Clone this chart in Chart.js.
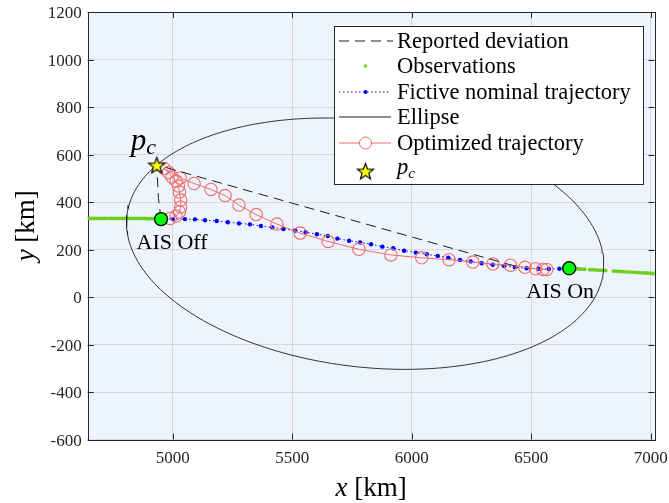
<!DOCTYPE html>
<html>
<head>
<meta charset="utf-8">
<script src="https://cdn.jsdelivr.net/npm/chart.js@4/dist/chart.umd.min.js"></script>
<style>
  html, body { margin: 0; padding: 0; background: #fff; }
  canvas { display: block; }
</style>
</head>
<body>
<canvas id="track" width="669" height="503"></canvas>
<script>
// Axis limits and ticks (km)
const X_LIMITS = [4644, 7016];
const Y_LIMITS = [-600, 1200];
const X_TICKS = [5000, 5500, 6000, 6500, 7000];
const Y_TICKS = [-600, -400, -200, 0, 200, 400, 600, 800, 1000, 1200];

// Key positions
const AIS_OFF = [4951, 328];
const AIS_ON = [6659, 121];
const PC = [4933, 556];

// AIS observations before switch-off and after switch-on
const obsX = [4644, 4653, 4662, 4671, 4680, 4689, 4698, 4707, 4716, 4724, 4737, 4745,
              4756, 4765, 4774, 4783, 4792, 4801, 4810, 4819, 4828, 4837, 4846, 4855,
              4864, 4873, 4882, 4891, 4900, 4909, 4918, 4927, 4936, 4945,
              6670, 6681, 6692, 6702, 6713, 6724, 6745, 6756, 6767, 6778, 6789, 6800,
              6812, 6844, 6855, 6866, 6877, 6887, 6898, 6909, 6921, 6932, 6943, 6954,
              6965, 6976, 6987, 6998, 7009, 7016];
const obsY = [331, 331, 331, 331, 331, 331, 331, 331, 331, 331, 331, 331,
              331, 331, 331, 331, 331, 331, 331, 331, 331, 331, 331, 331,
              331, 331, 331, 330, 330, 330, 330, 330, 330, 330,
              120, 119, 119, 118, 117, 117, 115, 115, 114, 113, 113, 112,
              111, 109, 109, 108, 107, 107, 106, 105, 105, 104, 103, 103,
              102, 101, 101, 100, 99, 99];

// Fictive nominal trajectory between AIS off and AIS on
const nominalX = [4951, 5000, 5051, 5093, 5135, 5184, 5230, 5277, 5323, 5369, 5417, 5463,
                  5512, 5556, 5603, 5649, 5689, 5738, 5784, 5830, 5877, 5923, 5968, 6017,
                  6063, 6109, 6153, 6202, 6247, 6293, 6339, 6386, 6432, 6481, 6530, 6574,
                  6618, 6659];
const nominalY = [328, 328, 328, 327, 323, 320, 315, 310, 306, 299, 293, 286,
                  280, 273, 264, 257, 246, 237, 230, 222, 212, 205, 195, 187,
                  180, 173, 165, 156, 150, 142, 136, 131, 125, 121, 119, 118,
                  119, 121];

// Optimized trajectory
const optX = [4989, 5014, 5028, 5033, 5033, 5028, 5024, 5014, 4997, 4982, 4964,
              5031, 5089, 5160, 5219, 5277, 5349, 5436, 5533, 5650, 5779, 5913,
              6042, 6156, 6256, 6340, 6413, 6474, 6518, 6549, 6565];
const optY = [331, 341, 358, 379, 408, 442, 467, 488, 505, 524, 541,
              501, 478, 453, 427, 387, 347, 307, 269, 234, 201, 177,
              165, 157, 147, 139, 134, 125, 119, 116, 116];

// Reported deviation: AIS off -> p_c -> back to the track
const devX = [4951, 4940, 4933, 6450];
const devY = [328, 415, 556, 125];

// Reachability ellipse (centre, semi-axes, tilt in degrees)
const ELLIPSE_CENTER = [5805, 224.5];
const ELLIPSE_SEMI = [1004, 519];
const ELLIPSE_TILT = -6.9;

const FONT = 'Liberation Serif';
const INK = 'rgb(38,38,38)';
const GREEN_OBS = 'rgb(110,206,30)';
const BLUE = 'rgb(0,0,255)';
const RED = 'rgb(240,108,108)';

function zip(xs, ys) {
    return xs.map((x, i) => ({ x: x, y: ys[i] }));
}

function ellipsePoints() {
    const pts = [];
    const t = ELLIPSE_TILT * Math.PI / 180;
    for (let i = 0; i <= 240; i++) {
        const a = i / 240 * 2 * Math.PI;
        const u = ELLIPSE_SEMI[0] * Math.cos(a);
        const v = ELLIPSE_SEMI[1] * Math.sin(a);
        pts.push({
            x: ELLIPSE_CENTER[0] + u * Math.cos(t) - v * Math.sin(t),
            y: ELLIPSE_CENTER[1] + u * Math.sin(t) + v * Math.cos(t)
        });
    }
    return pts;
}

// Filled five-point star used as the p_c marker
function makeStar(r) {
    const c = document.createElement('canvas');
    const s = Math.ceil(r * 2 + 4);
    c.width = s;
    c.height = s;
    const g = c.getContext('2d');
    g.beginPath();
    for (let i = 0; i < 10; i++) {
        const rad = i % 2 ? r * 0.42 : r;
        const a = -Math.PI / 2 + i * Math.PI / 5;
        g.lineTo(s / 2 + rad * Math.cos(a), s / 2 + 1 + rad * Math.sin(a));
    }
    g.closePath();
    g.fillStyle = '#ffff00';
    g.fill();
    g.lineWidth = 1.2;
    g.strokeStyle = '#000';
    g.stroke();
    return c;
}
const starImg = makeStar(8.5);

// Draws a list of text runs (some italic, some shifted) in one line
function drawRuns(ctx, runs, x, y, align) {
    let total = 0;
    runs.forEach(r => {
        ctx.font = (r.italic ? 'italic ' : '') + r.size + 'px "' + FONT + '"';
        r.w = ctx.measureText(r.text).width;
        total += r.w;
    });
    let cx = align === 'center' ? x - total / 2 : x;
    runs.forEach(r => {
        ctx.font = (r.italic ? 'italic ' : '') + r.size + 'px "' + FONT + '"';
        ctx.fillText(r.text, cx, y + (r.dy || 0));
        cx += r.w;
    });
}

const plotBackground = {
    id: 'plotBackground',
    beforeDraw(chart) {
        const { ctx, chartArea: a } = chart;
        ctx.save();
        ctx.fillStyle = 'rgb(237,244,251)';
        ctx.fillRect(a.left, a.top, a.right - a.left, a.bottom - a.top);
        ctx.restore();
    }
};

// Axes box with inward ticks on all four sides
const axesBox = {
    id: 'axesBox',
    beforeDatasetsDraw(chart) {
        const { ctx, chartArea: a, scales } = chart;
        const len = 6;
        ctx.save();
        ctx.strokeStyle = INK;
        ctx.lineWidth = 1;
        ctx.beginPath();
        X_TICKS.forEach(v => {
            const px = Math.round(scales.x.getPixelForValue(v)) + 0.5;
            ctx.moveTo(px, a.bottom); ctx.lineTo(px, a.bottom - len);
            ctx.moveTo(px, a.top); ctx.lineTo(px, a.top + len);
        });
        Y_TICKS.forEach(v => {
            const py = Math.round(scales.y.getPixelForValue(v)) + 0.5;
            ctx.moveTo(a.left, py); ctx.lineTo(a.left + len, py);
            ctx.moveTo(a.right, py); ctx.lineTo(a.right - len, py);
        });
        ctx.stroke();
        ctx.strokeRect(Math.round(a.left) + 0.5, Math.round(a.top) + 0.5,
                       Math.round(a.right - a.left), Math.round(a.bottom - a.top));
        ctx.restore();
    }
};

// Legend, point labels and axis titles
const overlay = {
    id: 'overlay',
    afterDraw(chart) {
        const { ctx, chartArea: a, scales } = chart;
        ctx.save();
        ctx.fillStyle = INK;
        ctx.textBaseline = 'alphabetic';

        // point labels
        const sx = scales.x, sy = scales.y;
        const pcX = sx.getPixelForValue(PC[0]), pcY = sy.getPixelForValue(PC[1]);
        ctx.fillStyle = '#000';
        drawRuns(ctx, [
            { text: 'p', italic: true, size: 31 },
            { text: 'c', italic: true, size: 22, dy: 4 }
        ], pcX - 26, pcY - 15, 'left');
        const offX = sx.getPixelForValue(AIS_OFF[0]), offY = sy.getPixelForValue(AIS_OFF[1]);
        drawRuns(ctx, [{ text: 'AIS Off', size: 22 }], offX + 11, offY + 30, 'center');
        const onX = sx.getPixelForValue(AIS_ON[0]), onY = sy.getPixelForValue(AIS_ON[1]);
        drawRuns(ctx, [{ text: 'AIS On', size: 22 }], onX - 9, onY + 30, 'center');

        // axis titles
        drawRuns(ctx, [
            { text: 'x', italic: true, size: 27 },
            { text: ' [km]', size: 27 }
        ], (a.left + a.right) / 2, 496, 'center');
        ctx.save();
        ctx.translate(34, (a.top + a.bottom) / 2);
        ctx.rotate(-Math.PI / 2);
        drawRuns(ctx, [
            { text: 'y', italic: true, size: 27 },
            { text: ' [km]', size: 27 }
        ], 0, 0, 'center');
        ctx.restore();

        // legend box
        const bx = 334.5, by = 26.5, bw = 309, bh = 158;
        ctx.fillStyle = '#fff';
        ctx.fillRect(bx, by, bw, bh);
        ctx.strokeStyle = INK;
        ctx.lineWidth = 1;
        ctx.strokeRect(bx, by, bw, bh);

        const sx0 = 339, sx1 = 391, mx = 365.5, tx = 397;
        const rows = [41, 66, 92, 117, 143, 171];
        const labels = ['Reported deviation', 'Observations', 'Fictive nominal trajectory',
                        'Ellipse', 'Optimized trajectory'];

        // Reported deviation
        ctx.strokeStyle = 'rgb(30,30,30)';
        ctx.setLineDash([10, 6]);
        ctx.beginPath(); ctx.moveTo(sx0, rows[0]); ctx.lineTo(sx1 + 2, rows[0]); ctx.stroke();
        ctx.setLineDash([]);
        // Observations
        ctx.fillStyle = GREEN_OBS;
        ctx.beginPath(); ctx.arc(mx, rows[1], 1.8, 0, 2 * Math.PI); ctx.fill();
        // Fictive nominal trajectory
        ctx.strokeStyle = BLUE;
        ctx.setLineDash([1.5, 2.5]);
        ctx.beginPath(); ctx.moveTo(sx0, rows[2]); ctx.lineTo(sx1, rows[2]); ctx.stroke();
        ctx.setLineDash([]);
        ctx.fillStyle = BLUE;
        ctx.beginPath(); ctx.arc(mx, rows[2], 2, 0, 2 * Math.PI); ctx.fill();
        // Ellipse
        ctx.strokeStyle = 'rgb(30,30,30)';
        ctx.beginPath(); ctx.moveTo(sx0, rows[3]); ctx.lineTo(sx1, rows[3]); ctx.stroke();
        // Optimized trajectory
        ctx.strokeStyle = RED;
        ctx.beginPath(); ctx.moveTo(sx0, rows[4]); ctx.lineTo(sx1, rows[4]); ctx.stroke();
        ctx.fillStyle = '#fff';
        ctx.beginPath(); ctx.arc(mx, rows[4], 6, 0, 2 * Math.PI); ctx.fill(); ctx.stroke();
        // p_c
        ctx.drawImage(starImg, mx - starImg.width / 2, rows[5] - starImg.height / 2);

        ctx.fillStyle = '#000';
        labels.forEach((t, i) => drawRuns(ctx, [{ text: t, size: 22.5 }], tx, rows[i] + 7, 'left'));
        drawRuns(ctx, [
            { text: 'p', italic: true, size: 22.5 },
            { text: 'c', italic: true, size: 15, dy: 4 }
        ], tx, rows[5] + 3, 'left');
        ctx.restore();
    }
};

const tickFont = { family: FONT, size: 17 };

// keep the plot box where it belongs even if edge labels hang over
function noScalePadding(s) {
    s.paddingLeft = 0;
    s.paddingRight = 0;
    s.paddingTop = 0;
    s.paddingBottom = 0;
}

new Chart(document.getElementById('track'), {
    type: 'scatter',
    data: {
        datasets: [
            {
                label: 'AIS markers',
                data: [{ x: AIS_OFF[0], y: AIS_OFF[1] }, { x: AIS_ON[0], y: AIS_ON[1] }],
                pointRadius: 6.5,
                pointBackgroundColor: 'rgb(0,255,0)',
                pointBorderColor: '#000',
                pointBorderWidth: 1.3,
                order: 0
            },
            {
                label: 'p_c',
                data: [{ x: PC[0], y: PC[1] }],
                pointStyle: starImg,
                order: 1
            },
            {
                label: 'Reported deviation',
                data: zip(devX, devY),
                showLine: true,
                borderColor: 'rgb(30,30,30)',
                borderWidth: 1,
                borderDash: [10, 6],
                pointRadius: 0,
                order: 2
            },
            {
                label: 'Optimized trajectory',
                data: zip(optX, optY),
                showLine: true,
                borderColor: RED,
                borderWidth: 1,
                pointRadius: 6.2,
                pointBorderColor: RED,
                pointBorderWidth: 1.1,
                pointBackgroundColor: 'rgba(0,0,0,0)',
                order: 3
            },
            {
                label: 'Ellipse',
                data: ellipsePoints(),
                showLine: true,
                borderColor: 'rgb(30,30,30)',
                borderWidth: 0.9,
                pointRadius: 0,
                order: 4
            },
            {
                label: 'Fictive nominal trajectory',
                data: zip(nominalX, nominalY),
                showLine: true,
                borderColor: BLUE,
                borderWidth: 1,
                borderDash: [1.5, 2.5],
                pointRadius: 2.2,
                pointBackgroundColor: BLUE,
                pointBorderWidth: 0,
                order: 5
            },
            {
                label: 'Observations',
                data: zip(obsX, obsY),
                pointRadius: 1.9,
                pointBackgroundColor: GREEN_OBS,
                pointBorderWidth: 0,
                order: 6
            }
        ]
    },
    options: {
        responsive: false,
        animation: false,
        events: [],
        layout: { padding: { top: 12, right: 14.5, left: 0, bottom: 0 } },
        plugins: {
            legend: { display: false },
            tooltip: { enabled: false }
        },
        scales: {
            x: {
                type: 'linear',
                min: X_LIMITS[0],
                max: X_LIMITS[1],
                afterBuildTicks: s => { s.ticks = X_TICKS.map(v => ({ value: v })); },
                afterFit: s => { s.height = 63.5; noScalePadding(s); },
                ticks: { font: tickFont, color: INK, padding: 9, callback: v => String(v) },
                grid: { color: 'rgba(38,38,38,0.13)', drawTicks: false },
                border: { display: false }
            },
            y: {
                type: 'linear',
                min: Y_LIMITS[0],
                max: Y_LIMITS[1],
                afterBuildTicks: s => { s.ticks = Y_TICKS.map(v => ({ value: v })); },
                afterFit: s => { s.width = 87.7; noScalePadding(s); },
                ticks: { font: tickFont, color: INK, padding: 6, labelOffset: 2, callback: v => String(v) },
                grid: { color: 'rgba(38,38,38,0.13)', drawTicks: false },
                border: { display: false }
            }
        }
    },
    plugins: [plotBackground, axesBox, overlay]
});
</script>
</body>
</html>
